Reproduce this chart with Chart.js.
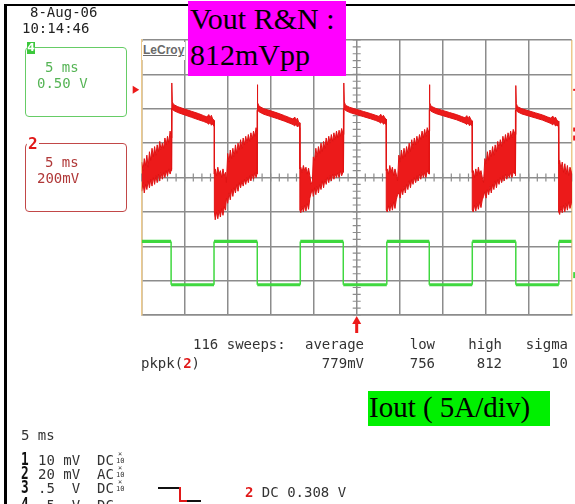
<!DOCTYPE html>
<html>
<head>
<meta charset="utf-8">
<title>Vout R&amp;N 812mVpp</title>
<script src="https://cdn.jsdelivr.net/npm/chart.js@4.4.0/dist/chart.umd.min.js"></script>
<style>
  body { margin: 0; background: #fff; }
  #scope { position: relative; width: 575px; height: 504px; overflow: hidden; background: #fff; }
  #scope canvas { position: absolute; left: 0; top: 0; }
  .t { position: absolute; white-space: pre; font-family: "DejaVu Sans Mono", monospace; font-size: 14px; line-height: 14px; color: #333; }
  .num { position: absolute; font-family: "DejaVu Sans Mono", monospace; font-weight: bold; font-size: 17px; line-height: 17px; color: #111; transform: scaleX(0.75); transform-origin: left; }
  .red { color: #e01818; font-weight: bold; }
  .serif { position: absolute; white-space: pre; font-family: "Liberation Serif", "Times New Roman", serif; font-size: 30px; line-height: 30px; color: #000; }
  .box { position: absolute; box-sizing: border-box; border-radius: 4px; }
  .frame { position: absolute; background: #000; }
  .mini { position: absolute; font-family: "DejaVu Sans Mono", monospace; font-size: 7px; line-height: 7px; color: #333; text-align: center; width: 8px; }
  .stroke { position: absolute; }
</style>
</head>
<body>
<div id="scope">
  <canvas id="scopeChart" width="575" height="504"></canvas>

  <div class="frame" style="left:4px;top:4px;width:571px;height:2px;"></div>
  <div class="frame" style="left:4px;top:4px;width:3px;height:500px;"></div>

  <div class="t" style="left:30px;top:5px;color:#222;">8-Aug-06</div>
  <div class="t" style="left:22px;top:21px;color:#222;">10:14:46</div>

  <div class="box" style="left:25px;top:47px;width:102px;height:70px;border:1.5px solid #66cc66;"></div>
  <div style="position:absolute;left:27px;top:42px;width:8px;height:12px;background:#3cc83c;color:#fff;font:bold 11px/12px 'DejaVu Sans';text-align:center;">4</div>
  <div class="t" style="left:45px;top:60px;color:#55b455;">5 ms</div>
  <div class="t" style="left:37px;top:76px;color:#55b455;">0.50 V</div>

  <div class="box" style="left:25px;top:143px;width:102px;height:69px;border:1.5px solid #c24848;"></div>
  <div class="t red" style="left:27px;top:136px;font-size:16px;line-height:16px;background:#fff;padding:0 1px;">2</div>
  <div class="t" style="left:45px;top:155px;color:#b03838;">5 ms</div>
  <div class="t" style="left:37px;top:171px;color:#b03838;">200mV</div>

  <div style="position:absolute;left:142px;top:42px;height:16px;background:#fff;font:bold 12px/12px 'Liberation Sans',Arial,sans-serif;color:#6a6a6a;text-decoration:underline;padding:2px 1px 0 1px;">LeCroy</div>

  <div style="position:absolute;left:188px;top:1px;width:158px;height:75px;background:#ff00ff;"></div>
  <div class="serif" style="left:190px;top:4px;">Vout R&amp;N :</div>
  <div class="serif" style="left:190px;top:40px;">812mVpp</div>

  <div id="readout"></div>

  <div style="position:absolute;left:368px;top:391px;width:182px;height:35px;background:#00f000;"></div>
  <div class="serif" style="left:369px;top:393px;font-size:29px;line-height:29px;">Iout ( 5A/div)</div>

  <div class="t" style="left:21px;top:428px;">5 ms</div>
  <div class="num" style="left:21px;top:451px;">1</div>
  <div class="t" style="left:38px;top:453px;">10 mV  DC</div>
  <div class="num" style="left:21px;top:465px;">2</div>
  <div class="t" style="left:38px;top:467px;">20 mV  AC</div>
  <div class="num" style="left:21px;top:479px;">3</div>
  <div class="t" style="left:38px;top:481px;">.5  V  DC</div>
  <div class="num" style="left:21px;top:496px;">4</div>
  <div class="t" style="left:38px;top:498px;">.5  V  DC</div>
  <div class="mini" style="left:116px;top:451px;">×</div><div class="mini" style="left:116px;top:458px;">10</div>
  <div class="mini" style="left:116px;top:465px;">×</div><div class="mini" style="left:116px;top:472px;">10</div>
  <div class="mini" style="left:116px;top:479px;">×</div><div class="mini" style="left:116px;top:486px;">10</div>

  <div class="stroke" style="left:158px;top:487px;width:22px;height:1.5px;background:#111;"></div>
  <div class="stroke" style="left:179px;top:487px;width:2px;height:15px;background:#e01818;"></div>
  <div class="stroke" style="left:179px;top:500px;width:8px;height:1.5px;background:#e01818;"></div>
  <div class="stroke" style="left:187px;top:500px;width:14px;height:1.5px;background:#111;"></div>
  <div class="t" style="left:245px;top:485px;"><span class="red">2</span> DC 0.308 V</div>
</div>

<script>
// channel 2 (Vout ripple, mV) - upper and lower edge of the noisy trace, [ms, mV]
const ch2Upper = [
  [0,90],[0.15,40],[0.3,110],[0.45,70],[0.6,130],[0.75,60],[0.9,150],[1.05,100],[1.2,170],[1.35,120],
  [1.5,180],[1.65,130],[1.8,190],[1.95,150],[2.1,210],[2.25,160],[2.4,200],[2.55,170],[2.7,230],[2.85,190],
  [3.0,240],[3.15,200],[3.3,270],[3.45,230],
  [3.5,280],[3.5,550],[3.56,440],[3.7,425],
  [4.2,412],[5.0,398],[5.8,385],[6.6,372],[7.2,360],[7.6,352],[7.8,366],[7.95,348],[8.1,362],[8.25,340],[8.4,335],
  [8.45,330],[8.45,20],
  [8.55,50],[8.7,10],[8.85,60],[9.0,20],[9.15,40],[9.3,0],[9.45,50],[9.6,10],[9.75,30],[9.85,-30],
  [10.0,140],[10.15,90],[10.3,160],[10.45,110],[10.6,170],[10.75,120],[10.9,190],[11.05,140],[11.2,200],[11.35,160],
  [11.5,220],[11.65,170],[11.8,230],[11.95,190],[12.1,240],[12.25,200],[12.4,250],[12.55,210],[12.7,260],[12.85,220],
  [13.0,270],[13.15,240],[13.3,290],[13.42,250],
  [13.45,270],[13.45,540],[13.51,435],[13.65,415],
  [14.2,400],[15.0,388],[15.8,375],[16.6,360],[17.2,348],[17.6,340],[17.8,352],[17.95,330],[18.1,346],[18.25,322],[18.38,318],
  [18.4,315],[18.4,50],
  [18.5,60],[18.65,30],[18.8,70],[18.95,40],[19.1,60],[19.25,20],[19.4,55],[19.55,10],[19.7,-40],[19.85,-20],
  [19.95,120],[20.1,100],[20.25,170],[20.4,120],[20.55,180],[20.7,140],[20.85,200],[21.0,150],[21.15,210],[21.3,170],
  [21.45,230],[21.6,190],[21.75,240],[21.9,200],[22.05,250],[22.2,210],[22.35,260],[22.5,220],[22.65,270],[22.8,230],
  [22.95,275],[23.1,240],[23.25,285],[23.42,250],
  [23.5,270],[23.5,550],[23.56,440],[23.7,420],
  [24.2,408],[25.0,396],[25.8,384],[26.6,372],[27.2,362],[27.6,355],[27.8,368],[27.95,350],[28.1,362],[28.3,345],[28.42,340],
  [28.45,338],[28.45,40],
  [28.55,50],[28.7,20],[28.85,70],[29.0,30],[29.15,60],[29.3,10],[29.45,50],[29.6,20],[29.75,-20],
  [29.9,130],[30.05,90],[30.2,160],[30.35,110],[30.5,170],[30.65,120],[30.8,180],[30.95,140],[31.1,200],[31.25,150],
  [31.4,220],[31.55,170],[31.7,230],[31.85,190],[32.0,240],[32.15,200],[32.3,250],[32.45,220],[32.6,270],[32.75,230],
  [32.9,280],[33.05,240],[33.2,290],[33.4,260],
  [33.45,270],[33.45,540],[33.51,435],[33.65,415],
  [34.2,402],[35.0,390],[35.8,378],[36.6,366],[37.2,355],[37.6,347],[37.8,360],[37.95,342],[38.1,356],[38.3,335],[38.42,330],
  [38.45,328],[38.45,30],
  [38.55,40],[38.7,0],[38.85,50],[39.0,10],[39.15,60],[39.3,20],[39.45,40],[39.6,0],[39.75,-30],
  [39.9,110],[40.05,80],[40.2,150],[40.35,100],[40.5,160],[40.65,120],[40.8,180],[40.95,130],[41.1,190],[41.25,150],
  [41.4,210],[41.55,170],[41.7,220],[41.85,180],[42.0,240],[42.15,200],[42.3,250],[42.45,210],[42.6,260],[42.75,220],
  [42.9,270],[43.05,230],[43.2,280],[43.42,250],
  [43.5,260],[43.5,535],[43.56,430],[43.7,412],
  [44.2,400],[45.0,388],[45.8,376],[46.6,364],[47.2,352],[47.6,345],[47.8,358],[47.95,340],[48.1,352],[48.3,332],[48.45,328],
  [48.5,325],[48.5,80],
  [48.6,100],[48.75,50],[48.9,90],[49.05,30],[49.2,80],[49.35,20],[49.5,70],[49.65,10],[49.8,60],[50,30]
];
const ch2Lower = [
  [0,-80],[0.15,-30],[0.3,-90],[0.45,-40],[0.6,-70],[0.75,-20],[0.9,-60],[1.05,-10],[1.2,-50],[1.35,0],
  [1.5,-40],[1.65,10],[1.8,-30],[1.95,20],[2.1,-20],[2.25,30],[2.4,-10],[2.55,30],[2.7,0],[2.85,40],
  [3.0,10],[3.15,50],[3.3,20],[3.45,50],
  [3.5,40],[3.52,400],[3.7,390],
  [4.2,378],[5.0,364],[5.8,350],[6.6,336],[7.2,326],[7.6,318],[7.8,310],[7.95,322],[8.1,304],[8.25,312],[8.4,298],
  [8.45,295],[8.45,-200],
  [8.55,-246],[8.7,-200],[8.85,-240],[9.0,-190],[9.15,-230],[9.3,-180],[9.45,-220],[9.6,-170],[9.75,-190],[9.85,-120],
  [10.0,-150],[10.15,-90],[10.3,-130],[10.45,-70],[10.6,-110],[10.75,-60],[10.9,-90],[11.05,-40],[11.2,-80],[11.35,-30],
  [11.5,-60],[11.65,-20],[11.8,-50],[11.95,-10],[12.1,-40],[12.25,0],[12.4,-30],[12.55,10],[12.7,-20],[12.85,20],
  [13.0,-10],[13.15,30],[13.3,0],[13.42,30],
  [13.45,20],[13.47,392],[13.65,382],
  [14.2,368],[15.0,355],[15.8,342],[16.6,328],[17.2,316],[17.6,308],[17.8,300],[17.95,312],[18.1,294],[18.25,302],[18.38,288],
  [18.4,285],[18.4,-190],
  [18.5,-205],[18.65,-170],[18.8,-200],[18.95,-160],[19.1,-195],[19.25,-150],[19.4,-185],[19.55,-120],[19.7,-90],[19.85,-70],
  [19.95,-110],[20.1,-60],[20.25,-100],[20.4,-50],[20.55,-90],[20.7,-40],[20.85,-70],[21.0,-20],[21.15,-60],[21.3,-10],
  [21.45,-40],[21.6,0],[21.75,-30],[21.9,10],[22.05,-20],[22.2,20],[22.35,-10],[22.5,20],[22.65,0],[22.8,30],
  [22.95,0],[23.1,40],[23.25,10],[23.42,40],
  [23.5,30],[23.52,400],[23.7,390],
  [24.2,378],[25.0,366],[25.8,354],[26.6,342],[27.2,332],[27.6,324],[27.8,316],[27.95,328],[28.1,310],[28.3,318],[28.42,304],
  [28.45,300],[28.45,-190],
  [28.55,-200],[28.7,-165],[28.85,-195],[29.0,-150],[29.15,-190],[29.3,-140],[29.45,-180],[29.6,-130],[29.75,-100],
  [29.9,-90],[30.05,-120],[30.2,-70],[30.35,-100],[30.5,-50],[30.65,-90],[30.8,-40],[30.95,-70],[31.1,-20],[31.25,-60],
  [31.4,-10],[31.55,-40],[31.7,0],[31.85,-30],[32.0,10],[32.15,-20],[32.3,20],[32.45,-10],[32.6,30],[32.75,0],
  [32.9,30],[33.05,0],[33.2,40],[33.4,20],
  [33.45,20],[33.47,395],[33.65,385],
  [34.2,372],[35.0,360],[35.8,348],[36.6,336],[37.2,324],[37.6,316],[37.8,308],[37.95,320],[38.1,302],[38.3,310],[38.42,296],
  [38.45,292],[38.45,-190],
  [38.55,-200],[38.7,-160],[38.85,-195],[39.0,-150],[39.15,-185],[39.3,-140],[39.45,-175],[39.6,-130],[39.75,-110],
  [39.9,-80],[40.05,-120],[40.2,-70],[40.35,-100],[40.5,-50],[40.65,-90],[40.8,-40],[40.95,-70],[41.1,-20],[41.25,-60],
  [41.4,-10],[41.55,-40],[41.7,0],[41.85,-30],[42.0,10],[42.15,-20],[42.3,20],[42.45,-10],[42.6,20],[42.75,0],
  [42.9,30],[43.05,0],[43.2,30],[43.42,20],
  [43.5,10],[43.52,392],[43.7,382],
  [44.2,370],[45.0,358],[45.8,346],[46.6,334],[47.2,322],[47.6,314],[47.8,306],[47.95,318],[48.1,300],[48.3,306],[48.45,294],
  [48.5,290],[48.5,-200],
  [48.6,-215],[48.75,-170],[48.9,-205],[49.05,-160],[49.2,-200],[49.35,-150],[49.5,-190],[49.65,-140],[49.8,-180],[50,-150]
];
// channel 4 (Iout probe, V) square wave, [ms, V]
const ch4Trace = [
  [0,-0.93],[3.42,-0.93],[3.42,-1.56],[8.41,-1.56],[8.41,-0.93],[13.44,-0.93],[13.44,-1.56],[18.44,-1.56],
  [18.44,-0.93],[23.44,-0.93],[23.44,-1.56],[28.5,-1.56],[28.5,-0.93],[33.44,-0.93],[33.44,-1.56],[38.44,-1.56],
  [38.44,-0.93],[43.5,-0.93],[43.5,-1.56],[48.5,-1.56],[48.5,-0.93],[50,-0.93]
];
// markers: ch2 trigger level (mV), ch2 offset (mV), ch4 offset (V), trigger time (ms)
const trigLevel = 510;
const ch2Mark = 250;
const ch4Mark = -1.42;
const trigTime = 25;
// measurement readout
const sweepCount = 116;
const statHeads = ["average", "low", "high", "sigma"];
const statValues = ["779mV", "756", "812", "10"];

const gridGray = "#8c8c8c";
const edgeYellow = "#ecc98c";
const traceRed = "#ec1a1a";
const traceGreen = "#3fd83f";

const toXY = (p) => ({ x: p[0], y: p[1] });
const ch2Shape = ch2Upper.map(toXY).concat(ch2Lower.slice().reverse().map(toXY));
const isVertical = (c) => c.p0.parsed.x === c.p1.parsed.x;

// readout table text
const readout = document.getElementById("readout");
const statRight = [364, 435, 502, 568];
function addText(html, css) {
  const d = document.createElement("div");
  d.className = "t";
  d.innerHTML = html;
  d.style.cssText = css;
  readout.appendChild(d);
}
addText(sweepCount + " sweeps:", "left:193px;top:337px;");
addText('pkpk(<span class="red">2</span>)', "left:141px;top:356px;");
statHeads.forEach((h, i) => addText(h, "right:" + (575 - statRight[i]) + "px;top:337px;"));
statValues.forEach((v, i) => addText(v, "right:" + (575 - statRight[i]) + "px;top:356px;"));

const scopeMarks = {
  id: "scopeMarks",
  beforeDatasetsDraw(chart) {
    const { ctx, scales: { x, y } } = chart;
    const xc = x.getPixelForValue(trigTime);
    const yc = y.getPixelForValue(0);
    ctx.save();
    ctx.strokeStyle = gridGray;
    ctx.lineWidth = 1.2;
    ctx.beginPath();
    for (let t = 0; t <= 50; t += 1) {
      const px = x.getPixelForValue(t);
      ctx.moveTo(px, yc - 4);
      ctx.lineTo(px, yc + 4);
    }
    for (let v = -800; v <= 800; v += 40) {
      const py = y.getPixelForValue(v);
      ctx.moveTo(xc - 4, py);
      ctx.lineTo(xc + 4, py);
    }
    ctx.stroke();
    ctx.restore();
  },
  afterDraw(chart) {
    const { ctx, chartArea: a, scales: { x, y, y4 } } = chart;
    ctx.save();
    ctx.fillStyle = traceRed;
    // trigger level arrow on the left
    const yt = y.getPixelForValue(trigLevel);
    ctx.beginPath();
    ctx.moveTo(a.left - 9, yt - 4);
    ctx.lineTo(a.left - 2.5, yt);
    ctx.lineTo(a.left - 9, yt + 4);
    ctx.fill();
    // right edge markers
    ctx.fillRect(a.right + 1.5, yt - 1, 3, 2);
    const y2 = y.getPixelForValue(ch2Mark);
    ctx.fillRect(a.right + 1.5, y2 - 7, 2, 4);
    ctx.fillRect(a.right + 1.5, y2 + 1, 2, 5);
    ctx.fillStyle = traceGreen;
    const yg = y4.getPixelForValue(ch4Mark);
    ctx.fillRect(a.right + 1.5, yg - 3, 2, 6);
    // trigger position arrow at the bottom
    const xt = x.getPixelForValue(trigTime);
    ctx.fillStyle = traceRed;
    ctx.beginPath();
    ctx.moveTo(xt, a.bottom + 1);
    ctx.lineTo(xt - 4.5, a.bottom + 9);
    ctx.lineTo(xt + 4.5, a.bottom + 9);
    ctx.fill();
    ctx.fillRect(xt - 1.5, a.bottom + 8, 3, 10);
    ctx.restore();
  }
};

const ctx = document.getElementById("scopeChart").getContext("2d");
const scopeChart = new Chart(ctx, {
  type: "line",
  data: {
    datasets: [
      {
        label: "Ch4",
        data: ch4Trace.map(toXY),
        yAxisID: "y4",
        borderColor: traceGreen,
        borderWidth: 3,
        pointRadius: 0,
        tension: 0,
        fill: false,
        segment: { borderWidth: (c) => (isVertical(c) ? 1.5 : 3.2) }
      },
      {
        label: "Ch2",
        data: ch2Shape,
        yAxisID: "y",
        borderColor: "#e01414",
        backgroundColor: traceRed,
        borderWidth: 1,
        pointRadius: 0,
        tension: 0,
        fill: "shape"
      }
    ]
  },
  options: {
    responsive: false,
    animation: false,
    devicePixelRatio: 1,
    layout: { padding: { left: 141.7, top: 40, right: 3.3, bottom: 189 } },
    scales: {
      x: {
        type: "linear",
        min: 0,
        max: 50,
        ticks: { display: false, stepSize: 5 },
        grid: {
          drawTicks: false,
          lineWidth: 1.5,
          color: (c) => (c.tick && c.tick.value === 50 ? edgeYellow : gridGray)
        },
        border: { color: gridGray, width: 1.5 }
      },
      y: {
        min: -800,
        max: 800,
        ticks: { display: false, stepSize: 200 },
        grid: { drawTicks: false, lineWidth: 1.5, color: gridGray },
        border: { color: edgeYellow, width: 1.5 }
      },
      y4: { display: false, min: -2, max: 2 }
    },
    plugins: {
      legend: { display: false },
      tooltip: { enabled: false }
    }
  },
  plugins: [scopeMarks]
});
</script>
</body>
</html>
